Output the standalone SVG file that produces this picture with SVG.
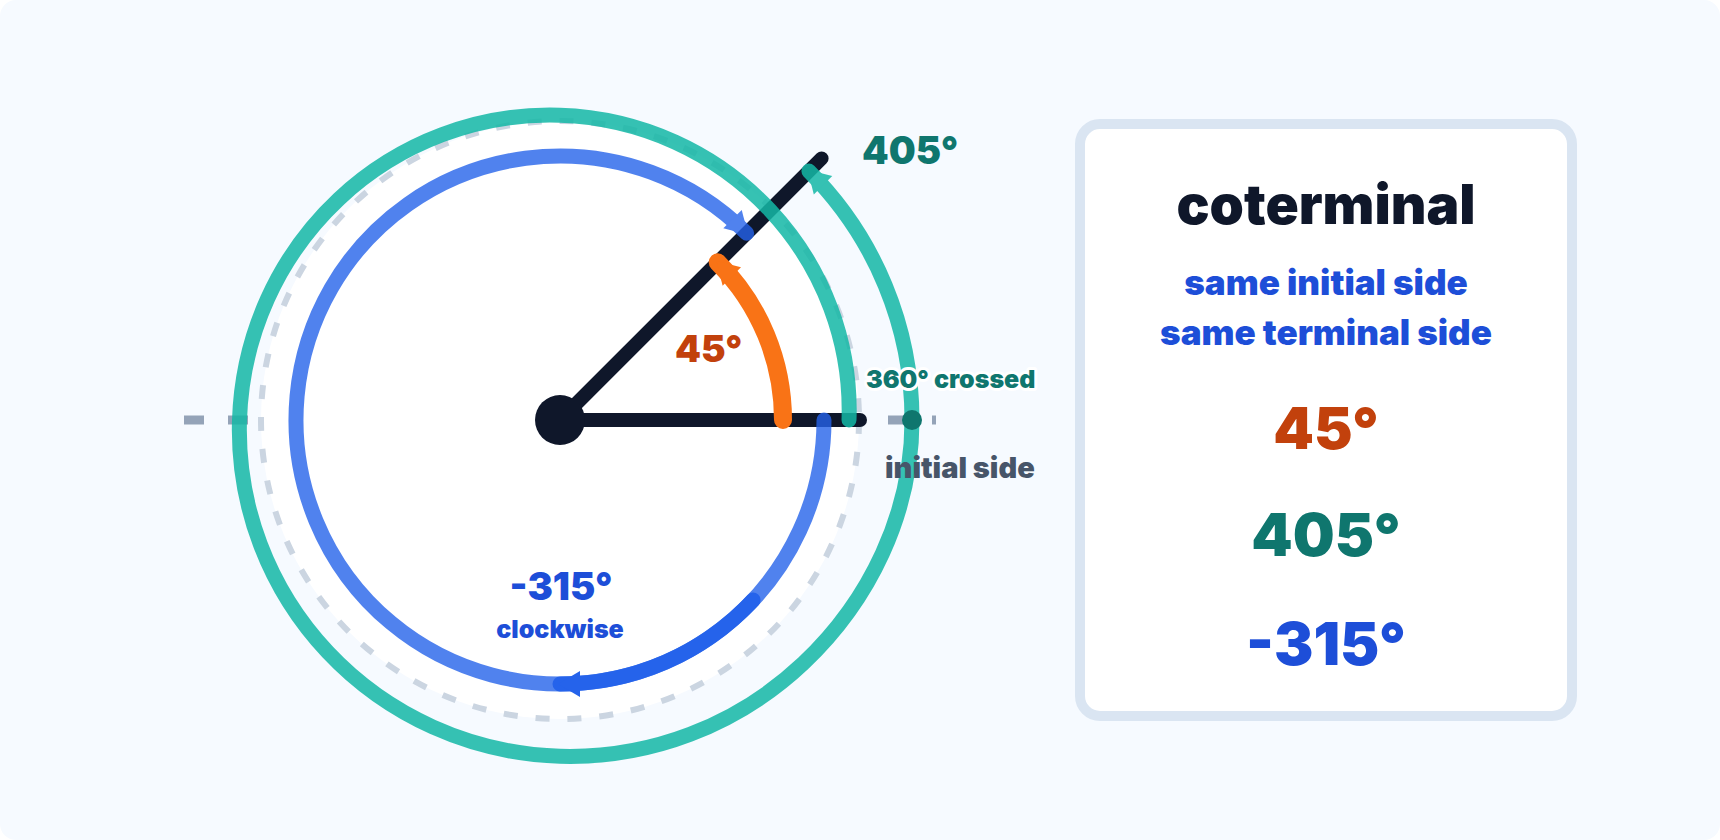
<svg xmlns="http://www.w3.org/2000/svg" width="1720" height="840" viewBox="0 0 1720 840">
  <style>
    text { font-family: Inter, "Liberation Sans", "DejaVu Sans", sans-serif; font-weight: 900; }
    .mid { text-anchor: middle; }
    .halo { paint-order: stroke; stroke: #ffffff; stroke-width: 6; stroke-linejoin: round; }
    .arc { fill: none; stroke-linecap: round; stroke-linejoin: round; }
  </style>
  <defs>
    <marker id="arrBlue" markerUnits="userSpaceOnUse" orient="auto" markerWidth="40" markerHeight="40" refX="0" refY="0" overflow="visible">
      <path d="M2,0 L-20,-13 L-20,13 Z" fill="#2563eb"/>
    </marker>
    <marker id="arrGreen" markerUnits="userSpaceOnUse" orient="auto" markerWidth="40" markerHeight="40" refX="0" refY="0" overflow="visible">
      <path d="M2,0 L-20,-13 L-20,13 Z" fill="#14b8a6"/>
    </marker>
    <marker id="arrOrange" markerUnits="userSpaceOnUse" orient="auto" markerWidth="40" markerHeight="40" refX="0" refY="0" overflow="visible">
      <path d="M2,0 L-20,-13 L-20,13 Z" fill="#f97316"/>
    </marker>
  </defs>

  <rect x="0" y="0" width="1720" height="840" fill="#ffffff"/>
  <rect x="0" y="0" width="1720" height="840" rx="16" fill="#f6faff"/>

  <!-- axis -->
  <g id="axis">
    <line x1="184" y1="420" x2="936" y2="420" stroke="#94a3b8" stroke-width="9" stroke-dasharray="20 24"/>
  </g>

  <!-- unit disk -->
  <g id="disk">
    <circle cx="560" cy="420" r="299" fill="#ffffff"/>
    <circle cx="560" cy="420" r="299" fill="none" stroke="#cbd5e1" stroke-width="6" stroke-dasharray="14 18"/>
  </g>

  <!-- rays -->
  <g id="rays" stroke="#0f172a" stroke-width="14" stroke-linecap="round">
    <line id="initial-side" x1="560" y1="420" x2="860" y2="420"/>
    <line id="terminal-side" x1="560" y1="420" x2="821.6" y2="158.4"/>
  </g>

  <g id="connectors">
    <!-- 45 degree arc -->
    <path id="arc-45" class="arc" d="M783 420 A223 223 0 0 0 717.68 262.32" stroke="#f97316" stroke-width="18" marker-end="url(#arrOrange)"/>
    <!-- -315 degree arc -->
    <g opacity="0.8">
      <path id="arc-neg315" class="arc" d="M824 420 A264 264 0 1 1 746.68 233.32" stroke="#2563eb" stroke-width="15" marker-end="url(#arrBlue)"/>
    </g>
    <path id="arc-neg315-dir" class="arc" d="M753.08 600.05 A264 264 0 0 1 560 684" stroke="#2563eb" stroke-width="15" marker-end="url(#arrBlue)"/>
    <!-- 405 degree spiral -->
    <g opacity="0.85">
      <path id="arc-405" class="arc" stroke="#14b8a6" stroke-width="15" marker-end="url(#arrGreen)"
        d="M849 420 C851.66 343.36 823.71 267.63 769.92 210.08 C716.13 152.53 640.82 117.91 560 115.25 C479.18 112.59 399.45 142.19 338.94 198.94 C278.43 255.69 242.16 335 239.5 420 C236.84 505 268.10 588.74 327.80 652.20 C387.50 715.66 470.83 753.59 560 756.25 C649.17 758.91 736.92 725.98 803.33 663.33 C869.74 600.68 912 513.35 912 420 A352 352 0 0 0 808.9 171.1"/>
    </g>
  </g>

  <g id="vertex">
    <circle cx="560" cy="420" r="25" fill="#0f172a"/>
  </g>
  <g id="crossing-dot">
    <circle cx="912" cy="420" r="10" fill="#0f766e"/>
  </g>

  <!-- labels -->
  <g id="labels">
    <text x="862" y="164" font-size="38" fill="#0f766e">405°</text>
    <text x="675" y="362" font-size="37" fill="#c2410c">45°</text>
    <text class="halo" x="866" y="388" font-size="25" fill="#0f766e">360° crossed</text>
    <text x="885" y="478" font-size="29" fill="#475569">initial side</text>
    <text class="mid" x="561" y="600" font-size="38" fill="#1d4ed8">-315°</text>
    <text class="mid" x="560" y="638" font-size="25" fill="#1d4ed8">clockwise</text>
  </g>

  <!-- summary card -->
  <g id="card">
    <rect x="1080" y="124" width="492" height="592" rx="20" fill="#ffffff" stroke="#dae5f2" stroke-width="10"/>
    <text class="mid" x="1326" y="224" font-size="55" fill="#0f172a">coterminal</text>
    <text class="mid" x="1326" y="295" font-size="35" fill="#1d4ed8">same initial side</text>
    <text class="mid" x="1326" y="345" font-size="35" fill="#1d4ed8">same terminal side</text>
    <text class="mid" x="1326" y="449" font-size="58" fill="#c2410c">45°</text>
    <text class="mid" x="1326" y="556" font-size="59" fill="#0f766e">405°</text>
    <text class="mid" x="1326" y="665" font-size="59" fill="#1d4ed8">-315°</text>
  </g>
</svg>
